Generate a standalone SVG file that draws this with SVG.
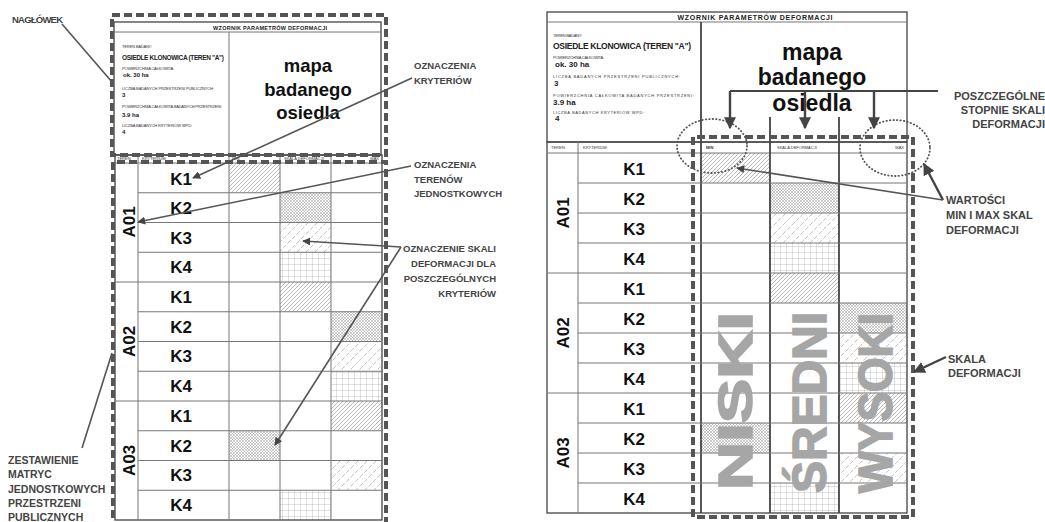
<svg xmlns="http://www.w3.org/2000/svg" width="1045" height="522" viewBox="0 0 1045 522">
<style>
text{font-family:"Liberation Sans",Arial,sans-serif}
.fr{fill:none;stroke:#444;stroke-width:1.3}
.ln{stroke:#777;stroke-width:1}
.lnd{stroke:#444;stroke-width:1.8}
.dash{fill:none;stroke:#555;stroke-width:4;stroke-dasharray:8 4}
.tiny{font-size:4px;fill:#333}
.tb{font-weight:bold;fill:#222}
.k{font-size:17px;font-weight:bold;fill:#111;text-anchor:middle}
.map{font-weight:bold;fill:#111;text-anchor:middle}
.ann{font-size:9.5px;font-weight:bold;fill:#444}
.annz{font-size:10.5px;font-weight:bold;fill:#444}
.annr{font-size:11px;font-weight:bold;fill:#444}
.arr{fill:none;stroke:#555;stroke-width:1.6;marker-end:url(#ah)}
.arr2{fill:none;stroke:#444;stroke-width:2.4;marker-end:url(#ah)}
.pl{fill:none;stroke:#555;stroke-width:1.6}
.big{font-size:48px;font-weight:bold;fill:#a6a6a6;stroke:#a6a6a6;stroke-width:1.6}
.dot{fill:none;stroke:#555;stroke-width:1.8;stroke-dasharray:0.5 3;stroke-linecap:round}
</style>
<defs>
<marker id="ah" viewBox="0 0 10 10" refX="9" refY="5" markerWidth="5" markerHeight="5" orient="auto"><path d="M0,0 L10,5 L0,10 z" fill="#444"/></marker>
<pattern id="pd" width="4" height="4" patternUnits="userSpaceOnUse"><path d="M-1,1 L1,-1 M0,4 L4,0 M3,5 L5,3" stroke="#888" stroke-width="0.6"/></pattern>
<pattern id="pm" width="3" height="3" patternUnits="userSpaceOnUse"><path d="M0,0 L3,3 M3,0 L0,3" stroke="#999" stroke-width="0.5"/></pattern>
<pattern id="ps" width="9" height="9" patternUnits="userSpaceOnUse"><path d="M0,9 L9,0" stroke="#999" stroke-width="0.6" stroke-dasharray="4 2"/><path d="M-4.5,4.5 L4.5,-4.5 M4.5,13.5 L13.5,4.5" stroke="#aaa" stroke-width="0.6" stroke-dasharray="3 3"/></pattern>
<pattern id="pg" width="6" height="6" patternUnits="userSpaceOnUse"><path d="M0,0 H6 M0,0 V6" stroke="#999" stroke-width="0.6" fill="none"/></pattern>
</defs>

<!-- LEFT PANEL -->
<g id="left-header">
<rect class="fr" x="114" y="22" width="267" height="133"/>
<line class="ln" x1="114" y1="32" x2="381" y2="32"/>
<line class="ln" x1="229" y1="32" x2="229" y2="155"/>
<text class="tb" x="270" y="30" font-size="5.5" text-anchor="middle" textLength="114">WZORNIK PARAMETRÓW DEFORMACJI</text>
<text class="tiny" x="122" y="48" textLength="30">TEREN BADANY:</text>
<text class="tb" x="122" y="60" font-size="6.5" textLength="102">OSIEDLE KLONOWICA (TEREN "A")</text>
<text class="tiny" x="122" y="70" textLength="52">POWIERZCHNIA CAŁKOWITA:</text>
<text class="tb" x="123" y="77" font-size="6">ok. 30 ha</text>
<text class="tiny" x="122" y="90" textLength="92">LICZBA BADANYCH PRZESTRZENI PUBLICZNYCH:</text>
<text class="tb" x="122" y="97" font-size="6">3</text>
<text class="tiny" x="122" y="108" textLength="100">POWIERZCHNIA CAŁKOWITA BADANYCH PRZESTRZENI:</text>
<text class="tb" x="122" y="117" font-size="6">3.9 ha</text>
<text class="tiny" x="122" y="127" textLength="70">LICZBA BADANYCH KRYTERIÓW WPD:</text>
<text class="tb" x="122" y="134" font-size="6">4</text>
<text class="map" x="308" y="72" font-size="18.5">mapa</text>
<text class="map" x="308" y="96" font-size="18.5">badanego</text>
<text class="map" x="308" y="119" font-size="18.5">osiedla</text>
</g>

<g id="left-table">
<rect x="229" y="163" width="51" height="29.75" fill="url(#pd)"/>
<rect x="280" y="192.75" width="51" height="29.75" fill="url(#pm)"/>
<rect x="280" y="222.5" width="51" height="29.75" fill="url(#ps)"/>
<rect x="280" y="252.25" width="51" height="29.75" fill="url(#pg)"/>
<rect x="280" y="282" width="51" height="29.75" fill="url(#pd)"/>
<rect x="331" y="311.75" width="51" height="29.75" fill="url(#pm)"/>
<rect x="331" y="341.5" width="51" height="29.75" fill="url(#ps)"/>
<rect x="331" y="371.25" width="51" height="29.75" fill="url(#pg)"/>
<rect x="331" y="401" width="51" height="29.75" fill="url(#pd)"/>
<rect x="229" y="430.75" width="51" height="29.75" fill="url(#pm)"/>
<rect x="331" y="460.5" width="51" height="29.75" fill="url(#ps)"/>
<rect x="280" y="490.25" width="51" height="29.75" fill="url(#pg)"/>
<rect class="fr" x="115" y="155" width="267" height="365"/>
<line class="ln" x1="115" y1="163" x2="382" y2="163"/>
<line class="ln" x1="138" y1="155" x2="138" y2="520"/>
<line class="ln" x1="229" y1="155" x2="229" y2="520"/>
<line class="ln" x1="280" y1="155" x2="280" y2="520"/>
<line class="ln" x1="331" y1="155" x2="331" y2="520"/>
<path class="ln" d="M138,192.75H382 M138,222.5H382 M138,252.25H382 M115,282H382 M138,311.75H382 M138,341.5H382 M138,371.25H382 M115,401H382 M138,430.75H382 M138,460.5H382 M138,490.25H382"/>
<text class="tiny" x="117" y="160">TEREN:</text>
<text class="tiny" x="142" y="160">KRYTERIUM:</text>
<text class="tiny" x="232" y="160">MIN</text>
<text class="tiny" x="284" y="160">SKALA DEFORMACJI</text>
<text class="tiny" x="379" y="160" text-anchor="end">MAX</text>
<text class="k" x="181" y="185" font-size="16">K1</text>
<text class="k" x="181" y="214" font-size="16">K2</text>
<text class="k" x="181" y="244" font-size="16">K3</text>
<text class="k" x="181" y="273" font-size="16">K4</text>
<text class="k" x="181" y="303" font-size="16">K1</text>
<text class="k" x="181" y="333" font-size="16">K2</text>
<text class="k" x="181" y="362" font-size="16">K3</text>
<text class="k" x="181" y="392" font-size="16">K4</text>
<text class="k" x="181" y="422" font-size="16">K1</text>
<text class="k" x="181" y="452" font-size="16">K2</text>
<text class="k" x="181" y="481" font-size="16">K3</text>
<text class="k" x="181" y="511" font-size="16">K4</text>
<text class="k" font-size="16" transform="translate(135,222) rotate(-90)">A01</text>
<text class="k" font-size="16" transform="translate(135,341.5) rotate(-90)">A02</text>
<text class="k" font-size="16" transform="translate(135,460.5) rotate(-90)">A03</text>
</g>

<g id="left-dashed">
<rect class="dash" x="112" y="15" width="274" height="140"/>
<path class="dash" d="M113,530 V162 H386 V530"/>
</g>

<g id="label-naglowek"><text class="ann" x="12" y="23" textLength="51">NAGŁÓWEK</text></g>
<g id="label-kryteriow"><text class="ann" x="414" y="69">OZNACZENIA</text><text class="ann" x="414" y="84">KRYTERIÓW</text></g>
<g id="label-terenow"><text class="ann" x="414" y="168">OZNACZENIA</text><text class="ann" x="414" y="183">TERENÓW</text><text class="ann" x="414" y="197">JEDNOSTKOWYCH</text></g>
<g id="label-skali-left"><text class="ann" x="496" y="252" text-anchor="end">OZNACZENIE SKALI</text><text class="ann" x="496" y="267" text-anchor="end">DEFORMACJI DLA</text><text class="ann" x="496" y="282" text-anchor="end">POSZCZEGÓLNYCH</text><text class="ann" x="496" y="297" text-anchor="end">KRYTERIÓW</text></g>
<g id="label-zestawienie"><text class="annz" x="8" y="464">ZESTAWIENIE</text><text class="annz" x="8" y="478">MATRYC</text><text class="annz" x="8" y="493">JEDNOSTKOWYCH</text><text class="annz" x="8" y="507">PRZESTRZENI</text><text class="annz" x="8" y="521">PUBLICZNYCH</text></g>

<!-- RIGHT PANEL -->
<g id="right-header">
<rect class="fr" x="547" y="12" width="360" height="130"/>
<line class="ln" x1="547" y1="22" x2="907" y2="22"/>
<line class="lnd" x1="701" y1="22" x2="701" y2="142"/>
<text class="tb" x="755" y="20" font-size="7" text-anchor="middle" textLength="155">WZORNIK PARAMETRÓW DEFORMACJI</text>
<text class="tiny" x="553" y="37" textLength="29">TEREN BADANY:</text>
<text class="tb" x="553" y="49" font-size="8.5" textLength="138">OSIEDLE KLONOWICA (TEREN "A")</text>
<text class="tiny" x="553" y="59" textLength="51">POWIERZCHNIA CAŁKOWITA:</text>
<text class="tb" x="555" y="67" font-size="8">ok. 30 ha</text>
<text class="tiny" x="553" y="78" textLength="127">LICZBA BADANYCH PRZESTRZENI PUBLICZNYCH:</text>
<text class="tb" x="554" y="86" font-size="8">3</text>
<text class="tiny" x="553" y="97" textLength="141">POWIERZCHNIA CAŁKOWITA BADANYCH PRZESTRZENI:</text>
<text class="tb" x="553" y="105" font-size="8">3.9 ha</text>
<text class="tiny" x="553" y="114" textLength="91">LICZBA BADANYCH KRYTERIÓW WPD:</text>
<text class="tb" x="555" y="121" font-size="8">4</text>
<text class="map" x="812" y="60" font-size="23">mapa</text>
<text class="map" x="812" y="85" font-size="23">badanego</text>
<text class="map" x="812" y="111" font-size="23">osiedla</text>
</g>

<g id="right-table">
<rect x="701" y="153" width="69" height="30" fill="url(#pd)"/>
<rect x="770" y="183" width="69" height="30" fill="url(#pm)"/>
<rect x="770" y="213" width="69" height="30" fill="url(#ps)"/>
<rect x="770" y="243" width="69" height="30" fill="url(#pg)"/>
<rect x="770" y="273" width="69" height="30" fill="url(#pd)"/>
<rect x="839" y="303" width="68" height="30" fill="url(#pm)"/>
<rect x="839" y="333" width="68" height="30" fill="url(#ps)"/>
<rect x="839" y="363" width="68" height="30" fill="url(#pg)"/>
<rect x="839" y="393" width="68" height="30" fill="url(#pd)"/>
<rect x="701" y="423" width="69" height="30" fill="url(#pm)"/>
<rect x="839" y="453" width="68" height="30" fill="url(#ps)"/>
<rect x="770" y="483" width="69" height="30" fill="url(#pg)"/>
<rect class="fr" x="547" y="142" width="360" height="371"/>
<line class="ln" x1="547" y1="153" x2="907" y2="153"/>
<line class="ln" x1="578" y1="142" x2="578" y2="513"/>
<line class="lnd" x1="701" y1="142" x2="701" y2="513"/>
<line class="lnd" x1="770" y1="117" x2="770" y2="513"/>
<line class="lnd" x1="839" y1="117" x2="839" y2="513"/>
<path class="ln" d="M578,183H907 M578,213H907 M578,243H907 M547,273H907 M578,303H907 M578,333H907 M578,363H907 M547,393H907 M578,423H907 M578,453H907 M578,483H907"/>
<text class="tiny" x="551" y="149">TEREN:</text>
<text class="tiny" x="583" y="149">KRYTERIUM:</text>
<text class="tiny" x="706" y="149" font-weight="bold">MIN</text>
<text class="tiny" x="777" y="149">SKALA DEFORMACJI</text>
<text class="tiny" x="904" y="149" text-anchor="end" font-size="5">MAX</text>
<text class="k" x="634" y="175">K1</text>
<text class="k" x="634" y="205">K2</text>
<text class="k" x="634" y="235">K3</text>
<text class="k" x="634" y="265">K4</text>
<text class="k" x="634" y="295">K1</text>
<text class="k" x="634" y="325">K2</text>
<text class="k" x="634" y="355">K3</text>
<text class="k" x="634" y="385">K4</text>
<text class="k" x="634" y="415">K1</text>
<text class="k" x="634" y="445">K2</text>
<text class="k" x="634" y="475">K3</text>
<text class="k" x="634" y="505">K4</text>
<text class="k" transform="translate(569,213) rotate(-90)">A01</text>
<text class="k" transform="translate(569,333) rotate(-90)">A02</text>
<text class="k" transform="translate(569,453) rotate(-90)">A03</text>
<text class="big" transform="translate(752,490) rotate(-90)" textLength="178" lengthAdjust="spacingAndGlyphs">NISKI</text>
<text class="big" transform="translate(826,493) rotate(-90)" textLength="181" lengthAdjust="spacingAndGlyphs">ŚREDNI</text>
<text class="big" transform="translate(892,493) rotate(-90)" textLength="180" lengthAdjust="spacingAndGlyphs">WYSOKI</text>
</g>

<g id="right-dashed">
<path class="dash" d="M693,517 V137 H913 V517 H693"/>
<ellipse class="dot" cx="712" cy="146" rx="35" ry="27"/>
<ellipse class="dot" cx="895" cy="148" rx="35" ry="28"/>
</g>

<g id="label-stopnie"><text class="annr" x="1045" y="100" text-anchor="end" font-size="12">POSZCZEGÓLNE</text><text class="annr" x="1045" y="114" text-anchor="end" font-size="12">STOPNIE SKALI</text><text class="annr" x="1045" y="128" text-anchor="end" font-size="12">DEFORMACJI</text></g>
<g id="label-wartosci"><text class="annr" x="946" y="204">WARTOŚCI</text><text class="annr" x="946" y="219">MIN I MAX SKAL</text><text class="annr" x="946" y="234">DEFORMACJI</text></g>
<g id="label-skala-right"><text class="annr" x="948" y="363">SKALA</text><text class="annr" x="948" y="377">DEFORMACJI</text></g>

<g id="connectors">
<path class="pl" d="M62,24 L112,82"/>
<path class="pl" d="M82,448 L112,353"/>
<path class="arr" d="M412,78 L193,178"/>
<path class="arr" d="M411,166 L138,222"/>
<path class="arr" d="M401,247 L303,241"/>
<path class="arr" d="M401,247 L275,445"/>
<path fill="none" stroke="#444" stroke-width="2" d="M730,91 H938"/>
<path class="arr2" d="M730,91 V128"/>
<path class="arr2" d="M805,91 V128"/>
<path class="arr2" d="M874,91 V128"/>
<path class="arr2" d="M943,200 L924,164"/>
<path class="arr" d="M943,200 L737,168"/>
<path class="arr2" d="M946,357 L914,372"/>
</g>
</svg>
